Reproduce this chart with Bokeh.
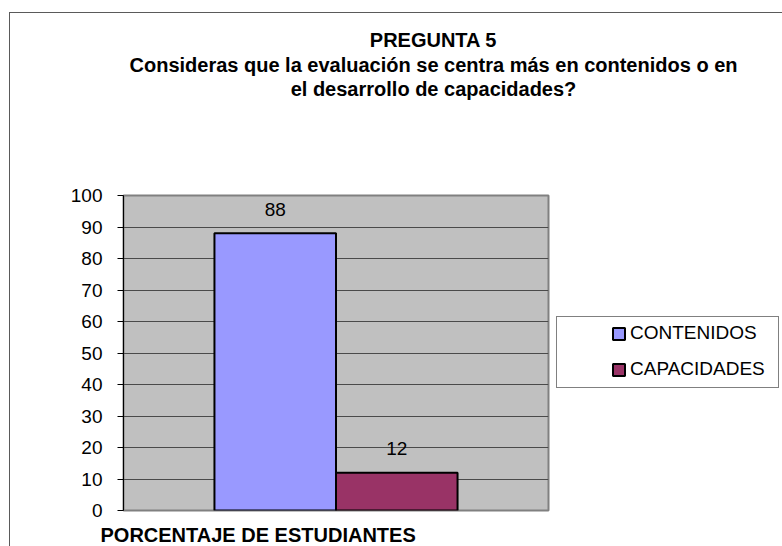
from bokeh.plotting import figure
from bokeh.models import (ColumnDataSource, Range1d, FactorRange, FixedTicker, Label,
                          Legend, LegendItem)
from bokeh.transform import dodge
from bokeh.core.properties import value
from bokeh.embed import file_html
from bokeh.resources import INLINE

# ---- data ----
title_lines = ["PREGUNTA 5",
               "Consideras que la evaluación se centra más en contenidos o en",
               "el desarrollo de capacidades?"]
group = "PORCENTAJE DE ESTUDIANTES"
categories = ["CONTENIDOS", "CAPACIDADES"]
values = [88, 12]
colors = ["#9999FF", "#993366"]
y_ticks = [0, 10, 20, 30, 40, 50, 60, 70, 80, 90, 100]

FONT = "Liberation Sans"

# chart-area border and legend frame drawn as CSS lines on the figure element
line = "linear-gradient(#5a5a5a,#5a5a5a)"
gline = "linear-gradient(#808080,#808080)"
bg = {
    "background-color": "white",
    "background-image": ", ".join([line, line, gline, gline, gline, gline]),
    "background-size": "773px 1px, 1px 534px, 223px 1px, 223px 1px, 1px 72px, 1px 72px",
    "background-position": "9px 12px, 9px 12px, 556px 316px, 556px 387px, 556px 316px, 778px 316px",
    "background-repeat": "no-repeat",
}

p = figure(frame_width=425, frame_height=315, output_backend="svg", toolbar_location=None,
           x_range=FactorRange(factors=[group], range_padding=0),
           y_range=Range1d(0, 100),
           min_border_left=123, min_border_right=234,
           min_border_top=195, min_border_bottom=36,
           styles=bg)

p.background_fill_color = "#C0C0C0"
p.border_fill_color = None
p.outline_line_color = "#808080"
p.outline_line_width = 2

p.xaxis.visible = False
p.xgrid.visible = False
p.ygrid.grid_line_color = "#4a4a4a"
p.ygrid.grid_line_width = 1

ax = p.yaxis[0]
ax.ticker = FixedTicker(ticks=y_ticks)
ax.major_label_text_font = FONT
ax.major_label_text_font_size = "19px"
ax.major_label_text_color = "black"
ax.major_tick_out = 6
ax.major_tick_in = 0
ax.minor_tick_out = 0
ax.minor_tick_in = 0
ax.axis_line_color = "black"
ax.major_tick_line_color = "black"
ax.major_label_standoff = 15

offsets = [-0.143, 0.143]
bar_width = 0.286
renderers = []
for cat, val, col, off in zip(categories, values, colors, offsets):
    src = ColumnDataSource(dict(group=[group], value=[val], label=[str(val)]))
    r = p.vbar(x=dodge("group", off, range=p.x_range), top="value", width=bar_width,
               source=src, fill_color=col, line_color="black", line_width=2)
    renderers.append(r)
    p.text(x=dodge("group", off, range=p.x_range), y="value", text="label", source=src,
           text_font=value(FONT), text_font_size="19px", text_align="center",
           text_baseline="middle", y_offset=-24, text_color="black")

legend = Legend(items=[LegendItem(label=c, renderers=[r]) for c, r in zip(categories, renderers)],
                location=(63, 130), padding=0, margin=0, spacing=14,
                glyph_width=15, glyph_height=15, label_height=22, label_standoff=4,
                label_text_font=FONT, label_text_font_size="19px", label_text_color="black",
                border_line_alpha=0, background_fill_alpha=0)
p.add_layout(legend, "right")

# title
for txt, yb in zip(title_lines, [39, 64, 88]):
    p.add_layout(Label(x=433, y=yb, x_units="canvas", y_units="canvas", text=txt,
                       text_font=FONT, text_font_size="20px", text_font_style="bold",
                       text_align="center", text_baseline="alphabetic", text_color="black"),
                 "above")

# category label at bottom
p.add_layout(Label(x=100, y=534, x_units="canvas", y_units="canvas", text=group,
                   text_font=FONT, text_font_size="20px", text_font_style="bold",
                   text_align="left", text_baseline="alphabetic", text_color="black"),
             "below")

open("out.html", "w").write(file_html(p, INLINE))
